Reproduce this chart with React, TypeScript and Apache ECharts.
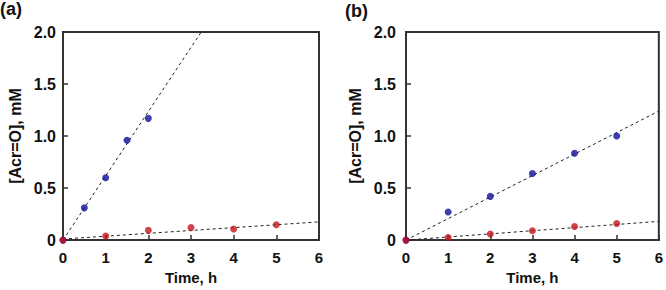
import React, { useEffect, useRef } from "react";
import * as echarts from "echarts";

// Panel (a)
const aBlueX = [0, 0.5, 1, 1.5, 2];
const aBlueY = [0, 0.31, 0.6, 0.96, 1.17];
const aRedX = [0, 1, 2, 3, 4, 5];
const aRedY = [0, 0.04, 0.095, 0.12, 0.107, 0.148];
const aBlueFit = [[0, 0], [3.24, 2.0]];
const aRedFit = [[0, 0.01], [6, 0.175]];

// Panel (b)
const bBlueX = [0, 1, 2, 3, 4, 5];
const bBlueY = [0, 0.27, 0.42, 0.64, 0.835, 1.0];
const bRedX = [0, 1, 2, 3, 4, 5];
const bRedY = [0, 0.025, 0.058, 0.09, 0.13, 0.16];
const bBlueFit = [[0, 0], [6, 1.24]];
const bRedFit = [[0, 0], [6, 0.18]];

const xTicks = [0, 1, 2, 3, 4, 5, 6];
const yTicks = [0, 0.5, 1.0, 1.5, 2.0];
const panelLabels = ["(a)", "(b)"];
const xTitle = "Time, h";
const yTitle = "[Acr=O], mM";

const FONT = "'Liberation Sans', Arial, Helvetica, sans-serif";
const BLUE = "#0c0c96";
const RED = "#c4141c";
const AXIS = "#333333";

function zip(xs: number[], ys: number[]) {
  return xs.map((x, i) => [x, ys[i]]);
}

export default function App() {
  const ref = useRef<HTMLDivElement>(null);
  useEffect(() => {
    if (!ref.current) return;
    const chart = echarts.init(ref.current, undefined, { renderer: "svg" });
    const grids = [
      { left: 63, top: 32, width: 256, height: 216 },
      { left: 406, top: 32, width: 255, height: 216 },
    ];
    const yLabelMargin = [7, 10];
    const yNameGap = [40, 43];
    const xAxis = grids.map((_, i) => ({
      type: "value",
      gridIndex: i,
      min: xTicks[0],
      max: xTicks[xTicks.length - 1],
      interval: 1,
      name: xTitle,
      nameLocation: "middle",
      nameGap: 29,
      nameTextStyle: { fontFamily: FONT, fontWeight: "bold", fontSize: 15, color: "#111" },
      axisLine: { show: true, lineStyle: { color: AXIS, width: 2 } },
      axisTick: { show: true, inside: true, length: 5, lineStyle: { color: AXIS, width: 1.5 } },
      axisLabel: {
        fontFamily: FONT, fontWeight: "bold", fontSize: 15, color: "#111", margin: 10,
        formatter: (v: number) => String(v),
      },
      splitLine: { show: false },
    }));
    const yAxis = grids.map((_, i) => ({
      type: "value",
      gridIndex: i,
      min: yTicks[0],
      max: yTicks[yTicks.length - 1],
      interval: 0.5,
      name: yTitle,
      nameLocation: "middle",
      nameGap: yNameGap[i],
      nameTextStyle: { fontFamily: FONT, fontWeight: "bold", fontSize: 16, color: "#111" },
      axisLine: { show: true, lineStyle: { color: AXIS, width: 2 } },
      axisTick: { show: true, inside: true, length: 5, lineStyle: { color: AXIS, width: 1.5 } },
      axisLabel: {
        fontFamily: FONT, fontWeight: "bold", fontSize: 16, color: "#111", margin: yLabelMargin[i],
        padding: [0, 0, 6, 0],
        formatter: (v: number) => (v === 0 ? "0" : v.toFixed(1)),
      },
      splitLine: { show: false },
    }));
    const fitLine = (data: number[][], idx: number) => ({
      type: "line",
      xAxisIndex: idx,
      yAxisIndex: idx,
      data,
      symbol: "none",
      silent: true,
      z: 1,
      lineStyle: { color: "#222", width: 1, type: [3, 3] },
    });
    const pts = (data: number[][], idx: number, color: string) => ({
      type: "scatter",
      xAxisIndex: idx,
      yAxisIndex: idx,
      data,
      symbol: "circle",
      symbolSize: 7,
      z: 3,
      clip: false,
      itemStyle: { color },
    });
    const titleStyle = { fontFamily: FONT, fontWeight: "bold", fontSize: 18, color: "#111" };
    chart.setOption({
      animation: false,
      backgroundColor: "#ffffff",
      grid: grids.map((g) => ({ ...g, show: true, borderColor: AXIS, borderWidth: 2, backgroundColor: "transparent" })),
      xAxis,
      yAxis,
      title: [
        { text: panelLabels[0], left: 0, top: 0, textStyle: titleStyle, padding: 0 },
        { text: panelLabels[1], left: 345, top: 2, textStyle: titleStyle, padding: 0 },
      ],
      series: [
        fitLine(aBlueFit, 0),
        fitLine(aRedFit, 0),
        pts(zip(aBlueX, aBlueY), 0, BLUE),
        pts(zip(aRedX, aRedY), 0, RED),
        fitLine(bBlueFit, 1),
        fitLine(bRedFit, 1),
        pts(zip(bBlueX, bBlueY), 1, BLUE),
        pts(zip(bRedX, bRedY), 1, RED),
      ],
    });
    return () => chart.dispose();
  }, []);
  return (
    <div
      ref={ref}
      style={{ position: "absolute", left: 0, top: 0, width: 666, height: 290, background: "#fff" }}
    />
  );
}
